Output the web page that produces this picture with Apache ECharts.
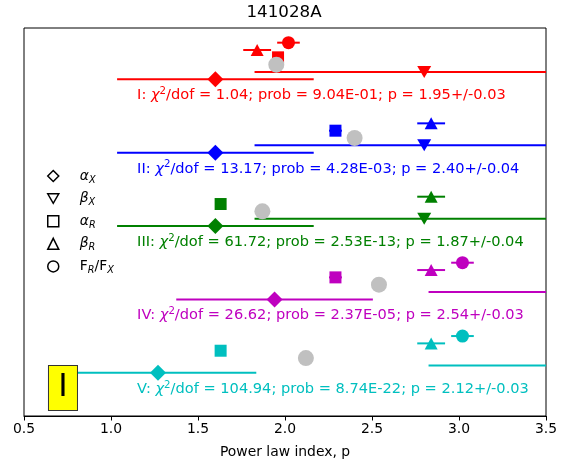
<!DOCTYPE html>
<html><head><meta charset="utf-8">
<script src="https://cdn.jsdelivr.net/npm/echarts@6/dist/echarts.min.js"></script>
<style>html,body{margin:0;padding:0;background:#fff}#c{width:568px;height:465px}</style>
</head><body><div id="c"></div>
<script>
// ---- data ----
const groups = ['I', 'II', 'III', 'IV', 'V'];
const groupColors = ['#ff0000', '#0000ff', '#008000', '#bf00bf', '#00bfbf'];
const alphaX = [1.60, 1.60, 1.60, 1.94, 1.27];
const alphaXErr = [0.565, 0.565, 0.565, 0.565, 0.565];
const betaX = [2.80, 2.80, 2.80, 3.80, 3.80];
const betaXErr = [0.975, 0.975, 0.975, 0.975, 0.975];
const alphaR = [1.96, 2.29, 1.63, 2.29, 1.63];
const alphaRErr = [0.03, 0.037, 0.03, 0.037, 0.03];
const betaR = [1.84, 2.84, 2.84, 2.84, 2.84];
const betaRErr = [0.08, 0.08, 0.08, 0.08, 0.08];
const fluxRatio = [2.02, null, null, 3.02, 3.02];
const fluxRatioErr = [0.065, 0.065, 0.065, 0.065, 0.065];
const chi2dof = ['1.04', '13.17', '61.72', '26.62', '104.94'];
const prob = ['9.04E-01', '4.28E-03', '2.53E-13', '2.37E-05', '8.74E-22'];
const pFit = [1.95, 2.40, 1.87, 2.54, 2.12];
const pFitErr = [0.03, 0.04, 0.04, 0.03, 0.03];
const xTicks = [0.5, 1.0, 1.5, 2.0, 2.5, 3.0, 3.5];
// vertical offset of each row inside a group (group spacing = 1)
const rowOffset = { fluxRatio: 0, betaR: 0.1, alphaR: 0.2, pFit: 0.3, betaX: 0.4, alphaX: 0.5, text: 0.72 };
const textX = 1.15;
const boxLabel = 'I';
const boxPos = [0.724, 4.707];

const FONT = 'DejaVu Sans';
const downTri = 'path://M0,0 L20,0 L10,17.3 Z';

function pts(vals, off) {
  const out = [];
  vals.forEach((v, g) => {
    if (v === null) return;
    out.push({ value: [v, g + off], itemStyle: { color: groupColors[g], opacity: 1 } });
  });
  return out;
}
function bars(vals, errs, off) {
  const out = [];
  vals.forEach((v, g) => {
    if (v === null) return;
    out.push([v, g + off, v - errs[g], v + errs[g], g]);
  });
  return out;
}
const barData = [].concat(
  bars(alphaX, alphaXErr, rowOffset.alphaX),
  bars(betaX, betaXErr, rowOffset.betaX),
  bars(alphaR, alphaRErr, rowOffset.alphaR),
  bars(betaR, betaRErr, rowOffset.betaR),
  bars(fluxRatio, fluxRatioErr, rowOffset.fluxRatio)
);

const legendLabels = {
  alphaX: '{i|α}{s|X}',
  betaX: '{i|β}{s|X}',
  alphaR: '{i|α}{s|R}',
  betaR: '{i|β}{s|R}',
  ratio: 'F{s|R}/F{s|X}'
};
const hollow = { color: '#fff', borderColor: '#000', borderWidth: 1.5, opacity: 1 };
const solid = { opacity: 1 };

const chart = echarts.init(document.getElementById('c'), null, { renderer: 'canvas' });
chart.setOption({
  animation: false,
  backgroundColor: '#fff',
  textStyle: { fontFamily: FONT },
  title: {
    text: '141028A', left: 'center', top: 4, padding: 0,
    textStyle: { fontFamily: FONT, fontSize: 16.7, fontWeight: 'normal', color: '#000' }
  },
  grid: { left: 24, right: 22, top: 28, bottom: 49, show: true, borderColor: '#000', borderWidth: 1, backgroundColor: 'transparent' },
  xAxis: {
    type: 'value', position: 'bottom', min: xTicks[0], max: xTicks[xTicks.length - 1], interval: 0.5,
    name: 'Power law index, p', nameLocation: 'middle', nameGap: 29,
    nameTextStyle: { fontFamily: FONT, fontSize: 13.9, color: '#000' },
    axisLine: { show: true, onZero: false, lineStyle: { color: '#000', width: 1 } },
    axisTick: { show: true, inside: false, length: 4.5, lineStyle: { color: '#000', width: 1 } },
    axisLabel: { fontFamily: FONT, fontSize: 13.9, color: '#000', margin: 6, formatter: v => v.toFixed(1) },
    splitLine: { show: false }
  },
  yAxis: {
    type: 'value', min: -0.2, max: 5.09, inverse: true,
    axisLine: { show: false }, axisTick: { show: false }, axisLabel: { show: false }, splitLine: { show: false }
  },
  legend: {
    orient: 'vertical', left: 47, top: 167, padding: 0,
    itemWidth: 11, itemHeight: 11, itemGap: 4.6,
    data: [
      { name: 'alphaX', icon: 'diamond', itemStyle: hollow },
      { name: 'betaX', icon: downTri, itemStyle: hollow },
      { name: 'alphaR', icon: 'rect', itemStyle: hollow },
      { name: 'betaR', icon: 'triangle', itemStyle: hollow },
      { name: 'ratio', icon: 'circle', itemStyle: hollow }
    ],
    itemStyle: hollow,
    selectedMode: false,
    formatter: n => legendLabels[n],
    textStyle: {
      fontFamily: FONT, fontSize: 13.9, color: '#000', lineHeight: 18, padding: [0, 0, 0, 16],
      rich: {
        i: { fontFamily: FONT, fontSize: 13.9, fontStyle: 'italic', color: '#000', lineHeight: 18 },
        s: { fontFamily: FONT, fontSize: 9.7, fontStyle: 'italic', color: '#000', lineHeight: 10, verticalAlign: 'bottom' }
      }
    }
  },
  series: [
    {
      type: 'custom', name: 'errorbars', z: 2, clip: true,
      encode: { x: 0, y: 1 },
      renderItem: function (params, api) {
        const y = api.value(1);
        const p1 = api.coord([api.value(2), y]);
        const p2 = api.coord([api.value(3), y]);
        const cs = params.coordSys;
        const x1 = Math.max(p1[0], cs.x);
        const x2 = Math.min(p2[0], cs.x + cs.width);
        if (x2 <= x1) return null;
        return {
          type: 'line',
          shape: { x1: x1, y1: p1[1], x2: x2, y2: p1[1] },
          style: { stroke: groupColors[api.value(4)], lineWidth: 2 }
        };
      },
      data: barData
    },
    { type: 'scatter', name: 'alphaX', z: 3, clip: true, symbol: 'diamond', symbolSize: 16, itemStyle: solid, data: pts(alphaX, rowOffset.alphaX) },
    { type: 'scatter', name: 'betaX', z: 3, clip: true, symbol: downTri, symbolSize: [14, 12], itemStyle: solid, data: pts(betaX, rowOffset.betaX) },
    { type: 'scatter', name: 'alphaR', z: 3, clip: true, symbol: 'rect', symbolSize: 12, itemStyle: solid, data: pts(alphaR, rowOffset.alphaR) },
    { type: 'scatter', name: 'betaR', z: 3, clip: true, symbol: 'triangle', symbolSize: [13, 12], itemStyle: solid, data: pts(betaR, rowOffset.betaR) },
    { type: 'scatter', name: 'ratio', z: 3, clip: true, symbol: 'circle', symbolSize: 13, itemStyle: solid, data: pts(fluxRatio, rowOffset.fluxRatio) },
    {
      type: 'scatter', name: 'pFit', z: 4, clip: true, symbol: 'circle', symbolSize: 16,
      itemStyle: { color: '#c0c0c0', opacity: 1 },
      data: pFit.map((v, g) => [v, g + rowOffset.pFit])
    },
    {
      type: 'scatter', name: 'annotations', z: 5, symbolSize: 0, silent: true,
      itemStyle: { opacity: 1 },
      data: groups.map((gName, g) => ({
        value: [textX, g + rowOffset.text],
        label: {
          color: groupColors[g],
          formatter: gName + ': {chi|χ}{sup|2}/dof = ' + chi2dof[g] + '; prob = ' + prob[g] +
            '; p = ' + pFit[g].toFixed(2) + '+/-' + pFitErr[g].toFixed(2)
        }
      })),
      label: {
        show: true, position: [0, 0], align: 'left', verticalAlign: 'middle',
        fontFamily: FONT, fontSize: 14.6, lineHeight: 18,
        rich: {
          chi: { fontFamily: FONT, fontSize: 14.6, fontStyle: 'italic', lineHeight: 18 },
          sup: { fontFamily: FONT, fontSize: 10.2, lineHeight: 10, verticalAlign: 'top' }
        }
      }
    },
    {
      type: 'scatter', name: 'box', z: 6, symbolSize: 0, silent: true,
      itemStyle: { opacity: 1 },
      data: [boxPos],
      label: {
        show: true, position: [0, 0], align: 'center', verticalAlign: 'middle',
        formatter: boxLabel, fontFamily: FONT, fontSize: 32, color: '#000',
        backgroundColor: '#ffff00', borderColor: '#333', borderWidth: 1,
        width: 28, height: 44, lineHeight: 44, padding: 0
      }
    }
  ]
});
</script></body></html>
